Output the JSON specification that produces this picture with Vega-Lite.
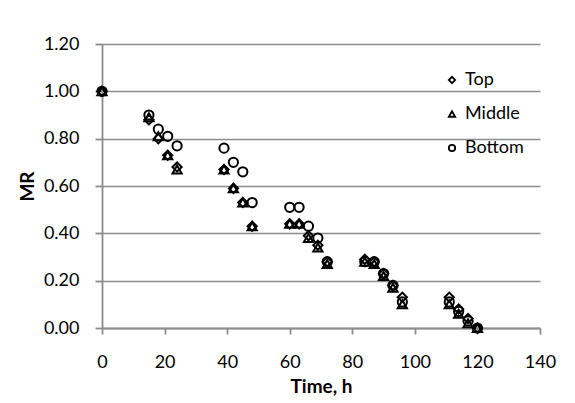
{
  "$schema": "https://vega.github.io/schema/vega-lite/v6.json",
  "autosize": "none",
  "width": 438,
  "height": 284,
  "padding": {"left": 102, "top": 44, "right": 35, "bottom": 75},
  "background": "white",
  "config": {
    "font": "Lato",
    "view": {"stroke": null},
    "axis": {
      "labelFont": "Lato", "labelFontSize": 18, "labelColor": "#000000",
      "titleFont": "Lato", "titleFontSize": 19, "titleFontWeight": "bold", "titleColor": "#000000",
      "domainColor": "#8c8c8c", "domainWidth": 1.8,
      "tickColor": "#8c8c8c", "tickWidth": 1.8, "tickSize": 6,
      "gridColor": "#8c8c8c", "gridWidth": 1.6
    }
  },
  "data": {
    "values": [
      {"t": 0, "mr": 1.00, "s": "Top"},
      {"t": 15, "mr": 0.88, "s": "Top"},
      {"t": 18, "mr": 0.80, "s": "Top"},
      {"t": 21, "mr": 0.73, "s": "Top"},
      {"t": 24, "mr": 0.68, "s": "Top"},
      {"t": 39, "mr": 0.67, "s": "Top"},
      {"t": 42, "mr": 0.59, "s": "Top"},
      {"t": 45, "mr": 0.53, "s": "Top"},
      {"t": 48, "mr": 0.43, "s": "Top"},
      {"t": 60, "mr": 0.44, "s": "Top"},
      {"t": 63, "mr": 0.44, "s": "Top"},
      {"t": 66, "mr": 0.39, "s": "Top"},
      {"t": 69, "mr": 0.35, "s": "Top"},
      {"t": 72, "mr": 0.28, "s": "Top"},
      {"t": 84, "mr": 0.29, "s": "Top"},
      {"t": 87, "mr": 0.28, "s": "Top"},
      {"t": 90, "mr": 0.23, "s": "Top"},
      {"t": 93, "mr": 0.18, "s": "Top"},
      {"t": 96, "mr": 0.13, "s": "Top"},
      {"t": 111, "mr": 0.13, "s": "Top"},
      {"t": 114, "mr": 0.08, "s": "Top"},
      {"t": 117, "mr": 0.04, "s": "Top"},
      {"t": 120, "mr": 0.00, "s": "Top"},
      {"t": 0, "mr": 1.00, "s": "Middle"},
      {"t": 15, "mr": 0.89, "s": "Middle"},
      {"t": 18, "mr": 0.81, "s": "Middle"},
      {"t": 21, "mr": 0.73, "s": "Middle"},
      {"t": 24, "mr": 0.67, "s": "Middle"},
      {"t": 39, "mr": 0.67, "s": "Middle"},
      {"t": 42, "mr": 0.59, "s": "Middle"},
      {"t": 45, "mr": 0.53, "s": "Middle"},
      {"t": 48, "mr": 0.43, "s": "Middle"},
      {"t": 60, "mr": 0.44, "s": "Middle"},
      {"t": 63, "mr": 0.44, "s": "Middle"},
      {"t": 66, "mr": 0.38, "s": "Middle"},
      {"t": 69, "mr": 0.34, "s": "Middle"},
      {"t": 72, "mr": 0.27, "s": "Middle"},
      {"t": 84, "mr": 0.28, "s": "Middle"},
      {"t": 87, "mr": 0.27, "s": "Middle"},
      {"t": 90, "mr": 0.22, "s": "Middle"},
      {"t": 93, "mr": 0.17, "s": "Middle"},
      {"t": 96, "mr": 0.10, "s": "Middle"},
      {"t": 111, "mr": 0.10, "s": "Middle"},
      {"t": 114, "mr": 0.06, "s": "Middle"},
      {"t": 117, "mr": 0.02, "s": "Middle"},
      {"t": 120, "mr": 0.00, "s": "Middle"},
      {"t": 0, "mr": 1.00, "s": "Bottom"},
      {"t": 15, "mr": 0.90, "s": "Bottom"},
      {"t": 18, "mr": 0.84, "s": "Bottom"},
      {"t": 21, "mr": 0.81, "s": "Bottom"},
      {"t": 24, "mr": 0.77, "s": "Bottom"},
      {"t": 39, "mr": 0.76, "s": "Bottom"},
      {"t": 42, "mr": 0.70, "s": "Bottom"},
      {"t": 45, "mr": 0.66, "s": "Bottom"},
      {"t": 48, "mr": 0.53, "s": "Bottom"},
      {"t": 60, "mr": 0.51, "s": "Bottom"},
      {"t": 63, "mr": 0.51, "s": "Bottom"},
      {"t": 66, "mr": 0.43, "s": "Bottom"},
      {"t": 69, "mr": 0.38, "s": "Bottom"},
      {"t": 72, "mr": 0.28, "s": "Bottom"},
      {"t": 84, "mr": 0.28, "s": "Bottom"},
      {"t": 87, "mr": 0.28, "s": "Bottom"},
      {"t": 90, "mr": 0.23, "s": "Bottom"},
      {"t": 93, "mr": 0.18, "s": "Bottom"},
      {"t": 96, "mr": 0.11, "s": "Bottom"},
      {"t": 111, "mr": 0.11, "s": "Bottom"},
      {"t": 114, "mr": 0.07, "s": "Bottom"},
      {"t": 117, "mr": 0.03, "s": "Bottom"},
      {"t": 120, "mr": 0.00, "s": "Bottom"}
    ]
  },
  "mark": {"type": "point", "filled": false, "strokeWidth": 2, "size": 85, "color": "#000000", "opacity": 1},
  "encoding": {
    "x": {
      "field": "t", "type": "quantitative", "title": "Time, h",
      "scale": {"domain": [0, 140], "nice": false, "zero": true},
      "axis": {"values": [0, 20, 40, 60, 80, 100, 120, 140], "grid": false, "labelPadding": 19, "titlePadding": 6, "labelFlush": false}
    },
    "y": {
      "field": "mr", "type": "quantitative", "title": "MR",
      "scale": {"domain": [0, 1.2], "nice": false},
      "axis": {"values": [0, 0.2, 0.4, 0.6, 0.8, 1.0, 1.2], "format": ".2f", "grid": true, "labelPadding": 16, "titlePadding": 6, "tickSize": 7, "labelFlush": false}
    },
    "shape": {
      "field": "s", "type": "nominal", "title": null,
      "scale": {"domain": ["Top", "Middle", "Bottom"], "range": ["diamond", "triangle-up", "circle"]},
      "legend": {
        "orient": "none", "legendX": 341, "legendY": 27, "padding": 0,
        "labelFont": "Lato", "labelFontSize": 18, "labelColor": "#000000", "labelOffset": 4,
        "symbolSize": 40, "symbolStrokeWidth": 1.8, "symbolStrokeColor": "#000000", "symbolFillColor": "transparent",
        "rowPadding": 16
      }
    }
  }
}
